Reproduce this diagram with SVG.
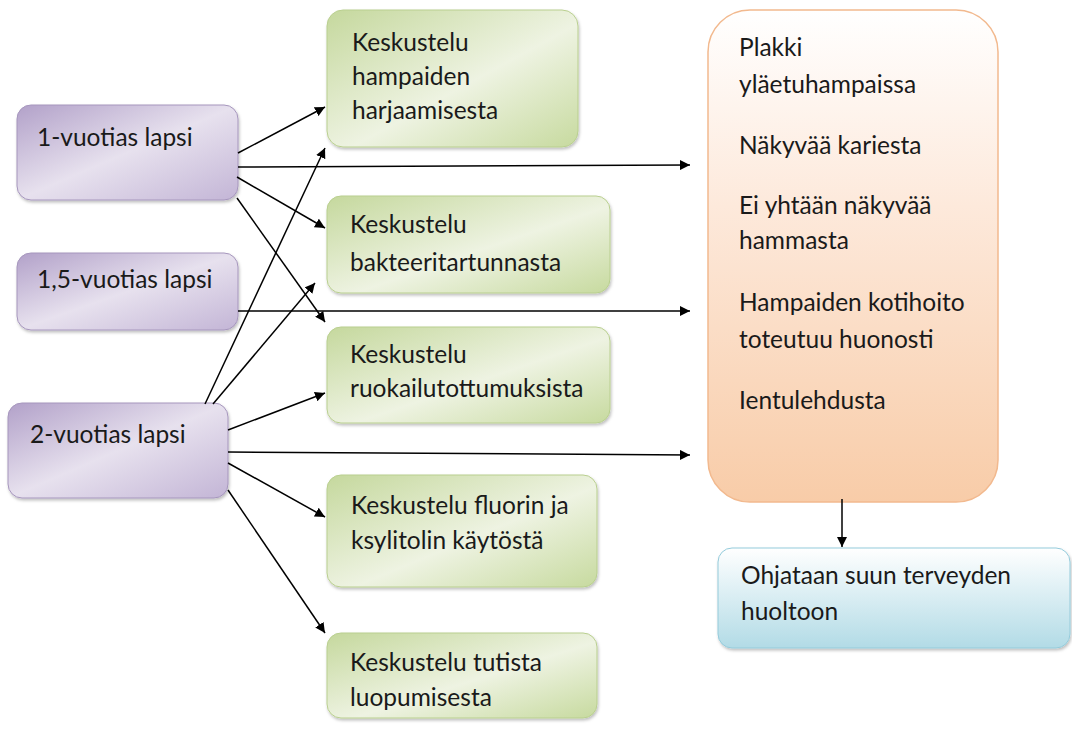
<svg xmlns="http://www.w3.org/2000/svg" width="1072" height="733" viewBox="0 0 1072 733">
<defs>
<linearGradient id="gPurple" x1="0" y1="0" x2="1" y2="1">
<stop offset="0" stop-color="#b2a1c9"/><stop offset="0.5" stop-color="#e7e1ee"/><stop offset="1" stop-color="#c3b5d6"/>
</linearGradient>
<linearGradient id="gGreen" x1="0" y1="0" x2="1" y2="1">
<stop offset="0" stop-color="#c5d89d"/><stop offset="0.55" stop-color="#eef3e2"/><stop offset="1" stop-color="#c7da9f"/>
</linearGradient>
<linearGradient id="gOrange" x1="0" y1="0" x2="0" y2="1">
<stop offset="0" stop-color="#ffffff"/><stop offset="0.4" stop-color="#fde9db"/><stop offset="1" stop-color="#f8cca8"/>
</linearGradient>
<linearGradient id="gBlue" x1="0" y1="0" x2="0" y2="1">
<stop offset="0" stop-color="#ffffff"/><stop offset="1" stop-color="#b2dbe6"/>
</linearGradient>
<filter id="sh" x="-10%" y="-10%" width="120%" height="125%">
<feDropShadow dx="1" dy="2" stdDeviation="1.5" flood-color="#000" flood-opacity="0.25"/>
</filter>
<marker id="ah" viewBox="0 0 10 10" refX="10" refY="5" markerWidth="10" markerHeight="10" markerUnits="userSpaceOnUse" orient="auto">
<path d="M0,0 L10,5 L0,10 Z" fill="#000"/>
</marker>
</defs>
<style>
text{font-family:Lato,"Liberation Sans",sans-serif;font-size:24.5px;fill:#1a1a1a}
.p{fill:url(#gPurple);stroke:#a696bd;stroke-width:1;filter:url(#sh)}
.g{fill:url(#gGreen);stroke:#b9cf8f;stroke-width:1;filter:url(#sh)}
.o{fill:url(#gOrange);stroke:#f2b98e;stroke-width:1.5}
.b{fill:url(#gBlue);stroke:#94cbdb;stroke-width:1;filter:url(#sh)}
.c{stroke:#000;stroke-width:1.5;fill:none;marker-end:url(#ah)}
</style>
<rect width="1072" height="733" fill="#fff"/>
<g id="n1">
<rect class="p" x="17" y="105" width="221" height="95" rx="14"/>
<text x="37" y="146">1-vuotias lapsi</text>
</g>
<g id="n15">
<rect class="p" x="17" y="253" width="221" height="77" rx="14"/>
<text x="37" y="288">1,5-vuotias lapsi</text>
</g>
<g id="n2">
<rect class="p" x="8" y="403" width="220" height="95" rx="14"/>
<text x="30" y="443">2-vuotias lapsi</text>
</g>
<g id="k1">
<rect class="g" x="327" y="10" width="251" height="137" rx="16"/>
<text x="352" y="51">Keskustelu</text>
<text x="352" y="85">hampaiden</text>
<text x="352" y="119">harjaamisesta</text>
</g>
<g id="k2">
<rect class="g" x="327" y="196" width="283" height="97" rx="14"/>
<text x="350" y="233">Keskustelu</text>
<text x="350" y="271">bakteeritartunnasta</text>
</g>
<g id="k3">
<rect class="g" x="327" y="327" width="283" height="96" rx="14"/>
<text x="350" y="363">Keskustelu</text>
<text x="350" y="397">ruokailutottumuksista</text>
</g>
<g id="k4">
<rect class="g" x="327" y="475" width="270" height="112" rx="14"/>
<text x="351" y="514">Keskustelu fluorin ja</text>
<text x="351" y="549">ksylitolin käytöstä</text>
</g>
<g id="k5">
<rect class="g" x="327" y="633" width="270" height="85" rx="14"/>
<text x="350" y="671">Keskustelu tutista</text>
<text x="350" y="706">luopumisesta</text>
</g>
<g id="oire">
<rect class="o" x="708" y="10" width="290" height="492" rx="42"/>
<text x="739" y="56">Plakki</text>
<text x="739" y="93">yläetuhampaissa</text>
<text x="739" y="154">Näkyvää kariesta</text>
<text x="739" y="214">Ei yhtään näkyvää</text>
<text x="739" y="249">hammasta</text>
<text x="739" y="311">Hampaiden kotihoito</text>
<text x="739" y="348">toteutuu huonosti</text>
<text x="739" y="409">Ientulehdusta</text>
</g>
<g id="ohjaus">
<rect class="b" x="718" y="548" width="352" height="100" rx="14"/>
<text x="741" y="584">Ohjataan suun terveyden</text>
<text x="741" y="620">huoltoon</text>
</g>
<g id="connectors">
<line class="c" x1="238" y1="153" x2="325" y2="107"/>
<line class="c" x1="238" y1="167" x2="690" y2="165"/>
<line class="c" x1="237" y1="177" x2="325" y2="228"/>
<line class="c" x1="237" y1="198" x2="325" y2="322"/>
<line class="c" x1="238" y1="311" x2="690" y2="311"/>
<line class="c" x1="205" y1="404" x2="325" y2="148"/>
<line class="c" x1="213" y1="404" x2="315" y2="283"/>
<line class="c" x1="228" y1="430" x2="325" y2="393"/>
<line class="c" x1="228" y1="452" x2="690" y2="455"/>
<line class="c" x1="228" y1="463" x2="325" y2="517"/>
<line class="c" x1="228" y1="490" x2="325" y2="633"/>
<line class="c" x1="842" y1="499" x2="842" y2="547"/>
</g>
</svg>
